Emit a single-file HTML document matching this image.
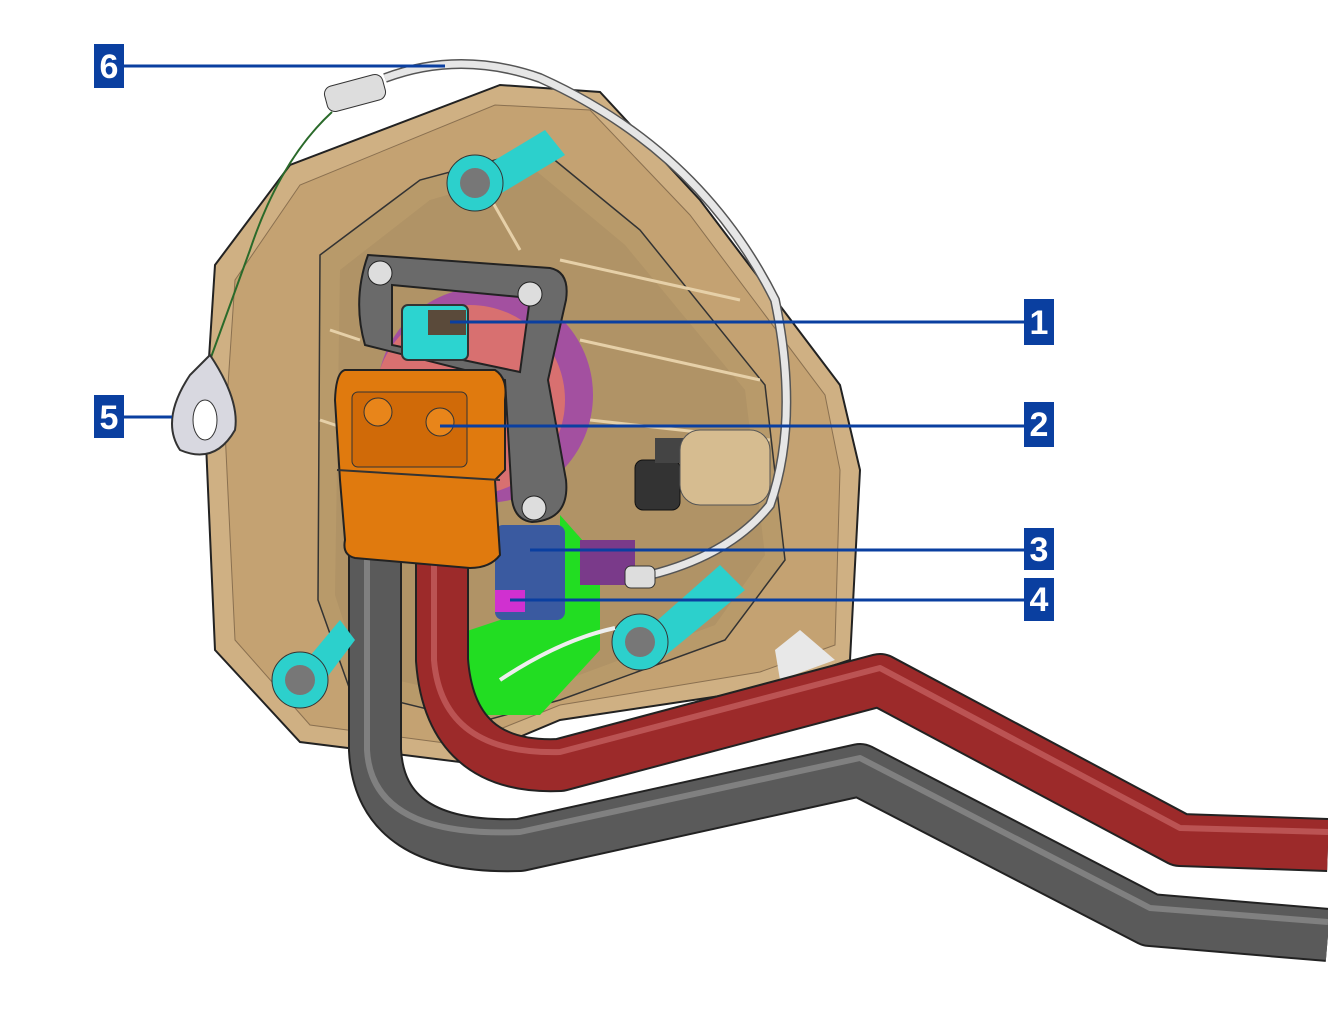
<!DOCTYPE html>
<html><head><meta charset="utf-8"><style>
html,body{margin:0;padding:0;background:#fff;}
svg{display:block;}
text{font-family:"Liberation Sans",sans-serif;font-weight:bold;}
</style></head><body>
<svg width="1328" height="1014" viewBox="0 0 1328 1014" xmlns="http://www.w3.org/2000/svg">
<!-- housing -->
<path d="M215,265 L290,165 L500,85 L600,92 L700,200 L840,385 L860,470 L850,660 L760,690 L560,720 L460,762 L300,742 L215,650 L205,420 Z" fill="#cfb083" stroke="#222" stroke-width="2"/>
<path d="M235,280 L300,185 L495,105 L590,110 L690,215 L825,395 L840,470 L835,645 L760,672 L560,705 L460,745 L310,725 L235,640 L225,430 Z" fill="#c4a272" stroke="#8a7050" stroke-width="1"/>
<!-- recess -->
<path d="M320,255 L420,180 L540,148 L640,230 L765,385 L785,560 L725,640 L560,700 L480,722 L350,690 L318,600 Z" fill="#b89a6a" stroke="#333" stroke-width="1.5"/>
<path d="M340,270 L430,200 L535,170 L625,245 L745,390 L765,555 L715,625 L560,682 L485,700 L360,672 L335,595 Z" fill="#a88c62" opacity="0.5"/>
<!-- ribs -->
<g stroke="#e6d0a8" stroke-width="3" fill="none">
<path d="M560,260 L740,300"/><path d="M580,340 L760,380"/><path d="M590,420 L770,440"/><path d="M330,330 L360,340"/><path d="M320,420 L350,430"/><path d="M480,180 L520,250"/>
</g>
<path d="M775,650 L800,630 L835,660 L780,680 Z" fill="#e8e8e8"/>
<!-- magenta ring / red body -->
<circle cx="485" cy="395" r="108" fill="#a350a0"/>
<circle cx="470" cy="400" r="95" fill="#d87070"/>
<!-- grey frame (ring) -->
<path fill-rule="evenodd" d="M368,255 L550,268 Q570,272 566,300 L548,380 L566,480 Q570,520 532,522 Q515,520 512,500 L505,380 L365,345 Q352,300 368,255 Z M392,285 L530,298 L520,372 L392,345 Z" fill="#6a6a6a" stroke="#222" stroke-width="2"/>
<circle cx="380" cy="273" r="12" fill="#ddd" stroke="#222"/>
<circle cx="530" cy="294" r="12" fill="#ddd" stroke="#222"/>
<circle cx="534" cy="508" r="12" fill="#ddd" stroke="#222"/>
<!-- teal connector 1 -->
<rect x="402" y="305" width="66" height="55" rx="6" fill="#2cd4d0" stroke="#333" stroke-width="2"/>
<rect x="428" y="310" width="38" height="25" fill="#5a4a3a"/>
<!-- lower parts -->
<path d="M560,515 L600,560 L600,650 L540,715 L430,715 L440,640 L560,600 Z" fill="#22dd22"/>
<rect x="495" y="525" width="70" height="95" rx="8" fill="#3a5aa0"/>
<rect x="495" y="590" width="30" height="22" fill="#d030d0"/>
<rect x="580" y="540" width="55" height="45" fill="#7a3a8a"/>
<!-- black connector -->
<rect x="635" y="460" width="45" height="50" rx="8" fill="#333" stroke="#111"/>
<rect x="655" y="438" width="30" height="25" fill="#444"/>
<rect x="680" y="430" width="90" height="75" rx="20" fill="#d6bc90" stroke="#555"/>
<!-- cables -->
<g fill="none" stroke-linejoin="round">
<path d="M375,555 L375,750 Q380,850 520,845 L860,770 L1150,920 L1328,935" stroke="#222" stroke-width="54"/>
<path d="M375,555 L375,750 Q380,850 520,845 L860,770 L1150,920 L1328,935" stroke="#5a5a5a" stroke-width="50"/>
<path d="M367,555 L367,750 Q372,838 520,832 L860,758 L1150,908 L1328,922" stroke="#9a9a9a" stroke-width="6" opacity="0.6"/>
<path d="M442,555 L442,660 Q450,770 560,765 L880,680 L1180,840 L1328,845" stroke="#222" stroke-width="54"/>
<path d="M442,555 L442,660 Q450,770 560,765 L880,680 L1180,840 L1328,845" stroke="#9c2a2a" stroke-width="50"/>
<path d="M434,555 L434,660 Q442,755 560,752 L880,668 L1180,828 L1328,832" stroke="#d07070" stroke-width="6" opacity="0.6"/>
</g>
<!-- orange connector -->
<path d="M345,370 L495,370 Q508,378 505,400 L505,470 L495,480 L500,555 Q490,568 470,568 L355,558 Q342,555 345,540 L340,480 L335,400 Q336,372 345,370 Z" fill="#e07a0e" stroke="#222" stroke-width="2"/>
<rect x="352" y="392" width="115" height="75" rx="6" fill="#d06a08" stroke="#333"/>
<circle cx="378" cy="412" r="14" fill="#e8851a" stroke="#333"/>
<circle cx="440" cy="422" r="14" fill="#e8851a" stroke="#333"/>
<path d="M337,470 L500,480" stroke="#333" stroke-width="2"/>
<!-- teal posts -->
<g>
<path d="M470,175 L545,130 L565,155 L490,200 Z" fill="#2cd0cc"/>
<circle cx="475" cy="183" r="28" fill="#2cd0cc" stroke="#333"/><circle cx="475" cy="183" r="15" fill="#777"/>
<path d="M290,680 L340,620 L355,640 L310,700 Z" fill="#2cd0cc"/>
<circle cx="300" cy="680" r="28" fill="#2cd0cc" stroke="#333"/><circle cx="300" cy="680" r="15" fill="#777"/>
<path d="M635,640 L720,565 L745,590 L660,660 Z" fill="#2cd0cc"/>
<circle cx="640" cy="642" r="28" fill="#2cd0cc" stroke="#333"/><circle cx="640" cy="642" r="15" fill="#777"/>
</g>
<!-- white cable -->
<path d="M385,78 Q460,50 540,78 Q700,150 775,300 Q800,420 770,505 Q730,555 650,575" fill="none" stroke="#555" stroke-width="10"/>
<path d="M385,78 Q460,50 540,78 Q700,150 775,300 Q800,420 770,505 Q730,555 650,575" fill="none" stroke="#e6e6e6" stroke-width="7"/>
<rect x="325" y="80" width="60" height="26" rx="8" transform="rotate(-15 355 93)" fill="#ddd" stroke="#333"/>
<rect x="625" y="566" width="30" height="22" rx="6" fill="#ddd" stroke="#333"/>
<path d="M500,680 Q560,640 615,628" fill="none" stroke="#eee" stroke-width="4"/>
<!-- green wire + eyelet -->
<path d="M332,112 Q280,160 250,250 L210,360" fill="none" stroke="#2a6a2a" stroke-width="2"/>
<path d="M210,355 Q240,400 235,430 Q215,465 180,450 Q160,420 190,375 Z" fill="#d8d8e0" stroke="#333" stroke-width="2"/>
<ellipse cx="205" cy="420" rx="12" ry="20" fill="#fff" stroke="#333"/>
<!-- leader lines -->
<g stroke="#0a3fa0" stroke-width="3">
<line x1="124" y1="66" x2="445" y2="66"/>
<line x1="124" y1="417" x2="172" y2="417"/>
<line x1="450" y1="322" x2="1024" y2="322"/>
<line x1="440" y1="426" x2="1024" y2="426"/>
<line x1="530" y1="550" x2="1024" y2="550"/>
<line x1="510" y1="600" x2="1024" y2="600"/>
</g>
<g fill="#0a3fa0">
<rect x="94" y="44" width="30" height="44"/>
<rect x="94" y="395" width="30" height="43"/>
<rect x="1024" y="299" width="30" height="46"/>
<rect x="1024" y="402" width="30" height="45"/>
<rect x="1024" y="528" width="30" height="42"/>
<rect x="1024" y="578" width="30" height="43"/>
</g>
<g fill="#fff" font-size="34" text-anchor="middle">
<text x="109" y="78">6</text>
<text x="109" y="429">5</text>
<text x="1039" y="334">1</text>
<text x="1039" y="436">2</text>
<text x="1039" y="561">3</text>
<text x="1039" y="611">4</text>
</g>
</svg>
</body></html>
